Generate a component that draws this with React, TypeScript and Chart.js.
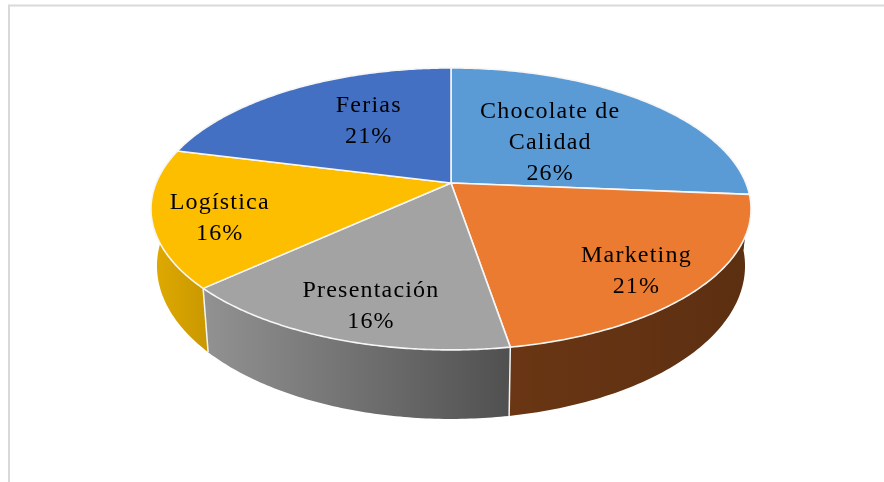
import React, { useEffect, useRef } from "react";
import { Chart, registerables } from "chart.js";

Chart.register(...registerables);

const categories = ["Chocolate de Calidad", "Marketing", "Presentación", "Logística", "Ferias"];
const labelLines = [["Chocolate de", "Calidad"], ["Marketing"], ["Presentación"], ["Logística"], ["Ferias"]];
const values = [5, 4, 3, 3, 4];
const topColors = ["#5B9BD5", "#EB7B30", "#A3A3A3", "#FDBE00", "#4370C2"];
const wallFrom = ["#3E6C96", "#6A3614", "#929292", "#E0AA00", "#2F4F88"];
const wallTo = ["#3E6C96", "#5C2F11", "#505050", "#C99800", "#2F4F88"];

// label placement: radial fraction of the pie, plus a small nudge in pixels
const labelRadius = [0.49, 0.78, 0.8, 0.8, 0.55];
const labelNudgeX = [-1, -2, 9, 6, 10];
const labelNudgeY = [2, 9, 3, 7, -7];

const CX = 451;
const PERSP = -0.184;
const TOP = { apexY: 183, k: 294.9, a: 136.2 };
const BASE = { apexY: 237.8, k: 289, a: 147.8 };

type Plane = { apexY: number; k: number; a: number };
const project = (p: Plane, angle: number, r = 1): [number, number] => {
  const c = Math.cos(angle) * r;
  const s = Math.sin(angle) * r;
  const d = 1 + PERSP * s;
  return [CX + (p.k * c) / d, p.apexY + (p.a * s) / d];
};

const FONT = '24px "Liberation Serif", "Times New Roman", serif';
const LINE = 31;

const pie3d = {
  id: "pie3d",
  beforeDatasetsDraw(chart: any) {
    const ctx: CanvasRenderingContext2D = chart.ctx;
    const arcs = chart.getDatasetMeta(0).data as any[];
    const total = values.reduce((a, b) => a + b, 0);

    // frame
    ctx.save();
    ctx.strokeStyle = "#D9D9D9";
    ctx.lineWidth = 2;
    ctx.beginPath();
    ctx.moveTo(884, 5.5);
    ctx.lineTo(9, 5.5);
    ctx.lineTo(9, 482);
    ctx.stroke();
    ctx.restore();

    // side walls
    arcs.forEach((arc, i) => {
      const a0 = arc.startAngle;
      const a1 = arc.endAngle;
      const N = 80;
      const up: [number, number][] = [];
      const low: [number, number][] = [];
      for (let j = 0; j <= N; j++) {
        const t = a0 + ((a1 - a0) * j) / N;
        up.push(project(TOP, t));
        low.push(project(BASE, t));
      }
      const xs = [...up, ...low].map((p) => p[0]);
      const g = ctx.createLinearGradient(Math.min(...xs), 0, Math.max(...xs), 0);
      g.addColorStop(0, wallFrom[i]);
      g.addColorStop(1, wallTo[i]);
      ctx.beginPath();
      up.forEach((p, n) => (n ? ctx.lineTo(p[0], p[1]) : ctx.moveTo(p[0], p[1])));
      low.reverse().forEach((p) => ctx.lineTo(p[0], p[1]));
      ctx.closePath();
      ctx.fillStyle = g;
      ctx.fill();
    });

    // seams on the front of the wall
    ctx.strokeStyle = "#F4F4F4";
    ctx.lineWidth = 1.5;
    arcs.forEach((arc) => {
      const t = arc.endAngle;
      if (Math.sin(t) > 0.3) {
        const u = project(TOP, t);
        const l = project(BASE, t);
        ctx.beginPath();
        ctx.moveTo(u[0], u[1]);
        ctx.lineTo(l[0], l[1]);
        ctx.stroke();
      }
    });

    // top faces
    arcs.forEach((arc, i) => {
      const a0 = arc.startAngle;
      const a1 = arc.endAngle;
      const N = 120;
      ctx.beginPath();
      ctx.moveTo(CX, TOP.apexY);
      for (let j = 0; j <= N; j++) {
        const p = project(TOP, a0 + ((a1 - a0) * j) / N);
        ctx.lineTo(p[0], p[1]);
      }
      ctx.closePath();
      ctx.fillStyle = topColors[i];
      ctx.fill();
      ctx.strokeStyle = "#F6F6F6";
      ctx.lineWidth = 1.6;
      ctx.lineJoin = "round";
      ctx.stroke();
    });

    // labels
    ctx.fillStyle = "#000";
    ctx.font = FONT;
    (ctx as any).letterSpacing = "1.2px";
    ctx.textAlign = "center";
    ctx.textBaseline = "middle";
    arcs.forEach((arc, i) => {
      const mid = (arc.startAngle + arc.endAngle) / 2;
      const [x, y] = project(TOP, mid, labelRadius[i]);
      const lines = [...labelLines[i], `${Math.round((values[i] / total) * 100)}%`];
      lines.forEach((line, n) => {
        ctx.fillText(
          line,
          x + labelNudgeX[i],
          y + labelNudgeY[i] + (n - (lines.length - 1) / 2) * LINE
        );
      });
    });
    return false;
  },
};

export default function App() {
  const ref = useRef<HTMLCanvasElement>(null);
  useEffect(() => {
    document.body.style.margin = "0";
    document.body.style.background = "#fff";
    const chart = new Chart(ref.current!, {
      type: "pie",
      data: {
        labels: categories,
        datasets: [{ data: values, backgroundColor: topColors }],
      },
      options: {
        responsive: false,
        animation: false,
        plugins: { legend: { display: false }, tooltip: { enabled: false } },
      },
      plugins: [pie3d],
    } as any);
    return () => chart.destroy();
  }, []);
  return <canvas ref={ref} width={884} height={482} style={{ display: "block", filter: "blur(0.4px)" }} />;
}
